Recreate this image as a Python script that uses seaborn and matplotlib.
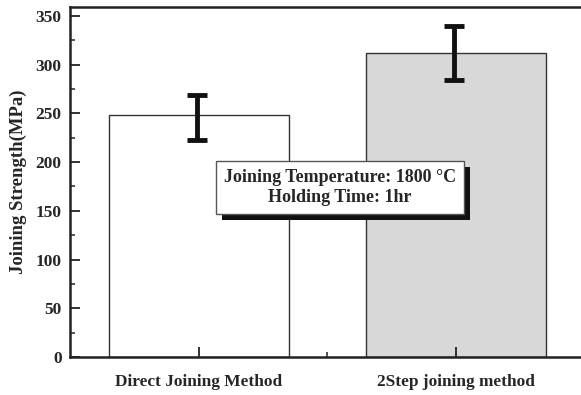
import matplotlib
matplotlib.use("Agg")
import matplotlib.pyplot as plt
from matplotlib.ticker import MultipleLocator, FixedLocator
from matplotlib.patches import Rectangle
import matplotlib.transforms as mtransforms
import seaborn as sns
import pandas as pd
import numpy as np

# Joining strength of the two joining routes
methods = ["Direct Joining Method", "2Step joining method"]
strength = [248, 312]
err_low = [25, 28]
err_high = [21, 28]
bar_colors = ["#ffffff", "#d8d8d8"]

sns.set_theme(style="ticks")
plt.rcParams["font.family"] = ["Liberation Serif", "DejaVu Serif"]
plt.rcParams["font.weight"] = "bold"

df = pd.DataFrame({"method": methods, "strength": strength})

fig = plt.figure(figsize=(5.81, 3.95), dpi=100)
ax = fig.add_axes([70 / 581, 38 / 395, 515 / 581, 350 / 395])

sns.barplot(data=df, x="method", y="strength", hue="method", palette=bar_colors,
            width=0.7, edgecolor="#333333", linewidth=1.0, errorbar=None,
            legend=False, ax=ax)

ax.errorbar(np.arange(len(methods)) - 0.008, strength, yerr=[err_low, err_high],
            fmt="none", ecolor="#111111", elinewidth=3.5, capsize=7.5, capthick=3.5,
            zorder=5)

ax.set_axisbelow(False)
ax.set_xlim(-0.5, 1.5)
ax.set_ylim(0, 359)
ax.yaxis.set_major_locator(MultipleLocator(50))
ax.yaxis.set_minor_locator(MultipleLocator(25))
ax.xaxis.set_minor_locator(FixedLocator([0.5]))

ax.tick_params(axis="both", which="major", direction="in", length=7, width=1.3,
               color="#222222", labelsize=12.5, pad=6)
ax.tick_params(axis="both", which="minor", direction="in", length=3.5, width=1.1,
               color="#222222")
ax.tick_params(axis="x", which="major", labelsize=12.4, pad=12)
for lab in ax.get_xticklabels() + ax.get_yticklabels():
    lab.set_fontweight("bold")

ax.set_xlabel("")
ax.set_ylabel("Joining Strength(MPa)", fontsize=13.5, fontweight="bold", labelpad=6)

for s in ax.spines.values():
    s.set_linewidth(1.8)
    s.set_color("#222222")

# Annotation box with drop shadow
ax.text(0.549, 174, "Joining Temperature: 1800 °C\nHolding Time: 1hr",
        ha="center", va="center", fontsize=13, fontweight="bold",
        linespacing=1.2, zorder=10,
        bbox=dict(boxstyle="square,pad=0.45", facecolor="white",
                  edgecolor="#555555", linewidth=1.0))
shadow_tr = ax.transData + mtransforms.ScaledTranslation(6 / 100, -6 / 100, fig.dpi_scale_trans)

fig.canvas.draw()
txt = ax.texts[0]
bb = txt.get_bbox_patch().get_window_extent(fig.canvas.get_renderer())
inv = ax.transData.inverted()
(x0, y0), (x1, y1) = inv.transform([[bb.x0, bb.y0], [bb.x1, bb.y1]])
ax.add_patch(Rectangle((x0, y0), x1 - x0, y1 - y0, transform=shadow_tr,
                       facecolor="#111111", edgecolor="none", zorder=9))

fig.savefig("out.png", dpi=100)
